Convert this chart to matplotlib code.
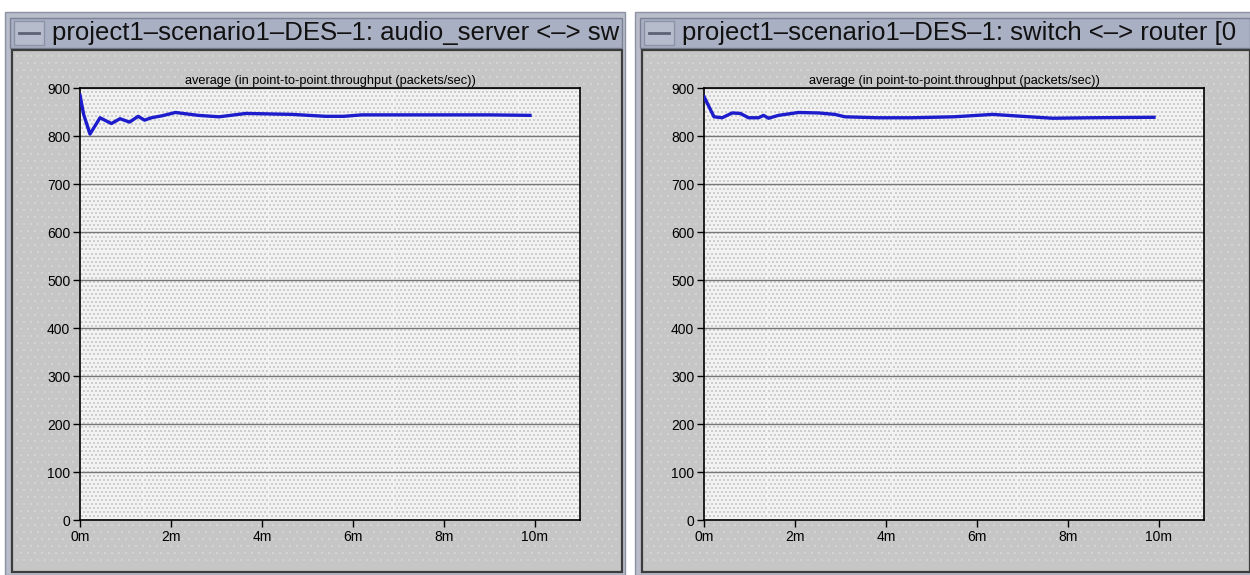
import matplotlib
matplotlib.use("Agg")
import matplotlib.pyplot as plt
from matplotlib.patches import Rectangle
import numpy as np

plt.rcParams['font.family'] = ['Liberation Sans', 'DejaVu Sans']

W, H = 1250, 575

# average point-to-point throughput (packets/sec) vs simulated time (minutes)
titles = ["project1\u2013scenario1\u2013DES\u20131: audio_server <\u2013> sw",
          "project1\u2013scenario1\u2013DES\u20131: switch <\u2013> router [0"]
stat_name = "average (in point-to-point.throughput (packets/sec))"

t_audio = [0.0, 0.08, 0.22, 0.44, 0.69, 0.88, 1.09, 1.28, 1.42, 1.57, 1.8, 2.1,
           2.6, 3.06, 3.65, 4.67, 5.4, 5.8, 6.2, 7.0, 8.0, 9.0, 9.9]
v_audio = [885, 845, 804, 838, 826, 836, 829, 841, 833, 838, 842, 849,
           843, 840, 847, 845, 841, 841, 844, 844, 844, 844, 843]

t_router = [0.0, 0.22, 0.4, 0.62, 0.8, 0.98, 1.2, 1.31, 1.42, 1.64, 2.08, 2.52,
            2.88, 3.1, 3.83, 4.56, 5.5, 6.35, 7.0, 7.67, 8.5, 9.9]
v_router = [882, 840, 838, 848, 847, 838, 838, 843, 837, 843, 849, 848,
            845, 840, 838, 838, 840, 845, 841, 837, 838, 839]

y_ticks = list(range(0, 901, 100))
x_ticks = [0, 2, 4, 6, 8, 10]
x_labels = ["0m", "2m", "4m", "6m", "8m", "10m"]

fig = plt.figure(figsize=(W / 100, H / 100), dpi=100, facecolor="white")

# pixel canvas for the window chrome
bg = fig.add_axes([0, 0, 1, 1])
bg.set_xlim(0, W)
bg.set_ylim(H, 0)
bg.axis("off")


def dots(ax, x0, y0, x1, y1, step, color, size, z):
    xs, ys = np.meshgrid(np.arange(x0, x1, step), np.arange(y0, y1, step))
    xs = xs + (np.arange(xs.shape[0])[:, None] % 2) * step / 2
    ax.scatter(xs.ravel(), ys.ravel(), s=size, c=color, marker="s",
               linewidths=0, zorder=z)


def window(x0, x1, title):
    # outer border
    bg.add_patch(Rectangle((x0, 12), x1 - x0, H - 12, fc="#b9bdca", ec="#8d92a3", lw=1, zorder=1))
    # title bar
    bg.add_patch(Rectangle((x0 + 5, 18), x1 - x0 - 8, 30, fc="#aab0c3", ec="#7c8296", lw=1, zorder=2))
    bg.add_patch(Rectangle((x0 + 9, 21), 30, 24, fc="#b7bccd", ec="#8c92a6", lw=1, zorder=3))
    bg.plot([x0 + 14, x0 + 34], [33, 33], color="#5d6275", lw=2, zorder=4)
    bg.text(x0 + 47, 33, title, fontsize=18.5, va="center", ha="left",
            color="#111111", zorder=4)
    # content panel
    bg.add_patch(Rectangle((x0 + 7, 50), x1 - x0 - 10, 522, fc="#c6c6c6", ec="#3c3c3c", lw=1.6, zorder=2))
    dots(bg, x0 + 12, 56, x1 - 8, 566, 7, "#d3d3d3", 1.2, 2.5)


window(5, 625, titles[0])
window(635, 1253, titles[1])


def panel(x0, t, v):
    ax = fig.add_axes([x0 / W, 1 - 520 / H, 500 / W, (520 - 88) / H])
    ax.set_facecolor("#f2f2f2")
    ax.set_xlim(0, 11)
    ax.set_ylim(0, 900)
    # stippled plot background
    xs, ys = np.meshgrid(np.linspace(0, 11, 125), np.linspace(0, 900, 108))
    xs = xs + (np.arange(xs.shape[0])[:, None] % 2) * 11 / 250
    ax.scatter(xs.ravel(), ys.ravel(), s=1.0, c="#cdcdcd", marker="s",
               linewidths=0, zorder=0, clip_on=True)
    for yv in y_ticks[1:]:
        ax.axhline(yv, color="#777777", lw=1.0, zorder=1)
    ax.plot(t, v, color="#1c1ccc", lw=2.4, zorder=3, solid_joinstyle="round")
    ax.set_yticks(y_ticks)
    ax.set_xticks(x_ticks)
    ax.set_xticklabels(x_labels)
    ax.tick_params(direction="out", length=5, width=1, labelsize=10, pad=2, color="black")
    for s in ax.spines.values():
        s.set_color("black")
        s.set_linewidth(1.2)
    ax.set_title(stat_name, fontsize=9.2, pad=3)
    return ax


panel(80, t_audio, v_audio)
panel(704, t_router, v_router)

fig.savefig("out.png", dpi=100, facecolor=fig.get_facecolor())
